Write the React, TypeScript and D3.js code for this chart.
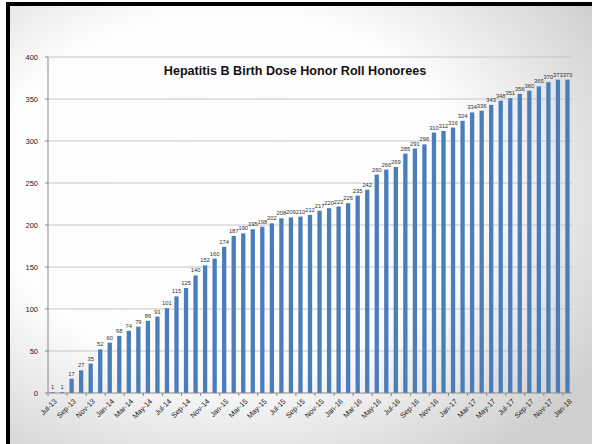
import React from "react";
import * as d3 from "d3";

const months = [
  "Jul-13","Aug-13","Sep-13","Oct-13","Nov-13","Dec-13",
  "Jan-14","Feb-14","Mar-14","Apr-14","May-14","Jun-14","Jul-14","Aug-14","Sep-14","Oct-14","Nov-14","Dec-14",
  "Jan-15","Feb-15","Mar-15","Apr-15","May-15","Jun-15","Jul-15","Aug-15","Sep-15","Oct-15","Nov-15","Dec-15",
  "Jan-16","Feb-16","Mar-16","Apr-16","May-16","Jun-16","Jul-16","Aug-16","Sep-16","Oct-16","Nov-16","Dec-16",
  "Jan-17","Feb-17","Mar-17","Apr-17","May-17","Jun-17","Jul-17","Aug-17","Sep-17","Oct-17","Nov-17","Dec-17",
  "Jan-18",
];
const honorees = [
  1, 1, 17, 27, 35, 52, 60, 68, 74, 79, 86, 91, 101, 115, 125, 140, 152, 160, 174, 187,
  190, 195, 198, 202, 208, 209, 210, 212, 217, 220, 222, 226, 235, 242, 260, 266, 269, 285, 291, 296,
  310, 312, 316, 324, 334, 336, 343, 348, 351, 356, 360, 365, 370, 373, 373,
];
const yTicks = [0, 50, 100, 150, 200, 250, 300, 350, 400];
const title = "Hepatitis B Birth Dose Honor Roll Honorees";

const W = 592, H = 444;
const M = { left: 48, right: 572, top: 57, bottom: 393 };

export default function App() {
  const x = d3.scaleBand<string>().domain(months).range([M.left, M.right]).paddingInner(0.55).paddingOuter(0.25);
  const y = d3.scaleLinear().domain([0, 400]).range([M.bottom, M.top]);
  const step = x.step();
  const font = "'Liberation Sans', Arial, sans-serif";
  return (
    <svg width={W} height={H} style={{ position: "absolute", left: 0, top: 0 }} fontFamily={font}>
      <defs>
        <radialGradient id="bg" cx="38%" cy="42%" r="75%">
          <stop offset="0%" stopColor="#ffffff" />
          <stop offset="55%" stopColor="#fdfdfd" />
          <stop offset="100%" stopColor="#cfcfcf" />
        </radialGradient>
      </defs>
      <rect x={0} y={0} width={W} height={H} fill="#ffffff" />
      <rect x={10} y={6} width={W - 10} height={H - 6} fill="url(#bg)" />
      <rect x={6} y={2} width={W - 6} height={4} fill="#000" />
      <rect x={6} y={2} width={4} height={H - 2} fill="#000" />
      {yTicks.map((t) => (
        <g key={t}>
          {t > 0 && <line x1={M.left} x2={M.right} y1={y(t)} y2={y(t)} stroke="#c6c6c6" strokeWidth={1} />}
          <line x1={M.left - 3} x2={M.left} y1={y(t)} y2={y(t)} stroke="#888" />
          <text x={M.left - 10} y={y(t)} dy="0.35em" textAnchor="end" fontSize={7.5} fill="#222">{t}</text>
        </g>
      ))}
      {months.map((m, i) => (
        <rect key={m} x={x(m)} y={y(honorees[i])} width={x.bandwidth()} height={y(0) - y(honorees[i])} fill="#4a7ebb" />
      ))}
      {months.map((m, i) => (
        <text key={"l" + m} x={(x(m) as number) + x.bandwidth() / 2} y={y(honorees[i]) - 3} textAnchor="middle" fontSize={5.8} fill="#333">
          {honorees[i]}
        </text>
      ))}
      <line x1={M.left} x2={M.left} y1={M.top} y2={M.bottom} stroke="#888" />
      <line x1={M.left} x2={M.right} y1={M.bottom} y2={M.bottom} stroke="#888" />
      {months.map((m, i) =>
        i % 2 === 0 ? (
          <g key={"t" + m}>
            <line x1={M.left + i * step} x2={M.left + i * step} y1={M.bottom} y2={M.bottom + 3} stroke="#888" />
            <text
              transform={`translate(${(x(m) as number) + x.bandwidth() / 2 + 3},${M.bottom + 7}) rotate(-45)`}
              textAnchor="end"
              dy="0.35em"
              fontSize={7.3}
              fill="#222"
            >
              {m}
            </text>
          </g>
        ) : null
      )}
      <text x={295} y={75} textAnchor="middle" fontSize={12.6} fontWeight="bold" fill="#111">{title}</text>
    </svg>
  );
}
